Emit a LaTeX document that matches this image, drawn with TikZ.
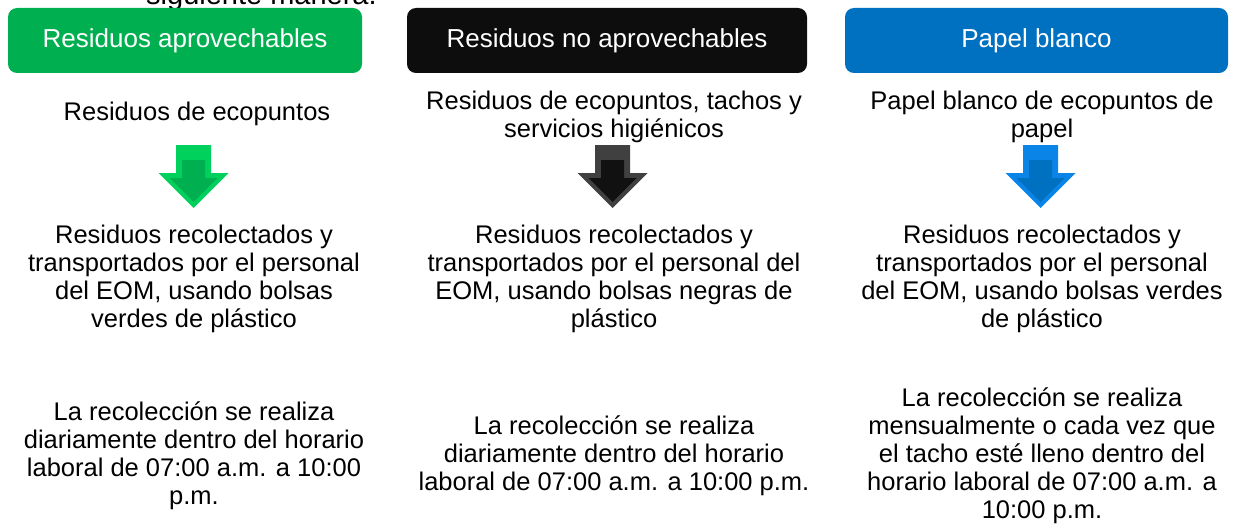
\documentclass[tikz,border=0pt]{standalone}
\usepackage{fontspec}
\setmainfont{Liberation Sans}
\definecolor{hgreen}{HTML}{00B050}
\definecolor{hblack}{HTML}{0D0D0D}
\definecolor{hblue}{HTML}{0070C0}
\definecolor{agreenout}{HTML}{00D05C}
\definecolor{agreenin}{HTML}{00B050}
\definecolor{ablackout}{HTML}{404040}
\definecolor{ablackin}{HTML}{111111}
\definecolor{ablueout}{HTML}{0A84E6}
\definecolor{ebluein}{HTML}{0070C0}
\newcommand{\blockarrow}[3]{%
  \fill[#2] (#1-17.5,145) -- (#1+17.5,145) -- (#1+17.5,173) -- (#1+35,173) -- (#1,208) -- (#1-35,173) -- (#1-17.5,173) -- cycle;
  \fill[#3] (#1-11.5,160) -- (#1+11.5,160) -- (#1+11.5,178) -- (#1+24,178) -- (#1,202) -- (#1-24,178) -- (#1-11.5,178) -- cycle;
}
\begin{document}
\begin{tikzpicture}[x=1pt,y=-1pt,
  hdr/.style={rounded corners=9pt, minimum height=65pt, inner sep=0pt, text=white,
    font=\fontsize{26}{28}\selectfont},
  txt/.style={align=center, inner sep=0pt, font=\fontsize{25.5}{28}\selectfont}]
\useasboundingbox (0,0) rectangle (1241,532);
\clip (0,0) rectangle (1241,532);
\node[anchor=base west, inner sep=0pt, font=\fontsize{29}{32}\selectfont] (intro) at (146,5) {siguiente manera.};
% headers
\node[hdr, fill=hgreen, minimum width=354pt] (h1) at (185,40.5) {Residuos aprovechables};
\node[hdr, fill=hblack, minimum width=400pt] (h2) at (607,40.5) {Residuos no aprovechables};
\node[hdr, fill=hblue, minimum width=383pt] (h3) at (1036.5,40.5) {Papel blanco};
% first text row
\node[txt] (a1) at (197,114) {Residuos de ecopuntos};
\node[txt] (b1) at (614,117) {Residuos de ecopuntos, tachos y\\servicios higiénicos};
\node[txt] (c1) at (1042,117) {Papel blanco de ecopuntos de\\papel};
% arrows
\blockarrow{193.5}{agreenout}{agreenin}
\blockarrow{612.5}{ablackout}{ablackin}
\blockarrow{1040.5}{ablueout}{ebluein}
% second text row
\node[txt] (a2) at (194,279) {Residuos recolectados y\\transportados por el personal\\del EOM, usando bolsas\\verdes de plástico};
\node[txt] (b2) at (614,279) {Residuos recolectados y\\transportados por el personal del\\EOM, usando bolsas negras de\\plástico};
\node[txt] (c2) at (1042,279) {Residuos recolectados y\\transportados por el personal\\del EOM, usando bolsas verdes\\de plástico};
% third text row
\node[txt] (a3) at (194,456) {La recolección se realiza\\diariamente dentro del horario\\laboral de 07:00 a.m. a 10:00\\p.m.};
\node[txt] (b3) at (614,456) {La recolección se realiza\\diariamente dentro del horario\\laboral de 07:00 a.m. a 10:00 p.m.};
\node[txt] (c3) at (1042,456) {La recolección se realiza\\mensualmente o cada vez que\\el tacho esté lleno dentro del\\horario laboral de 07:00 a.m. a\\10:00 p.m.};
\end{tikzpicture}
\end{document}
